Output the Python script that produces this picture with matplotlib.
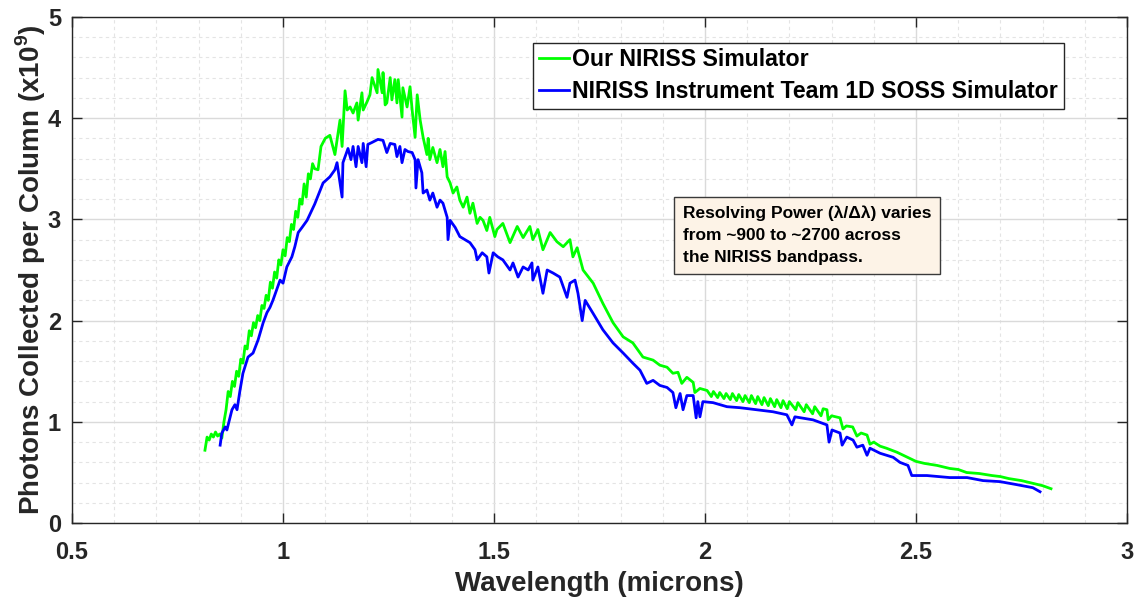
import matplotlib
matplotlib.use("Agg")
import matplotlib.pyplot as plt
from matplotlib.ticker import MultipleLocator

plt.rcParams['font.family'] = ['Liberation Sans', 'DejaVu Sans']
plt.rcParams['font.weight'] = 'bold'
plt.rcParams['mathtext.fontset'] = 'custom'
plt.rcParams['mathtext.bf'] = 'Liberation Sans:bold'
plt.rcParams['mathtext.rm'] = 'Liberation Sans:bold'

# wavelength (microns) / photons per column (x1e9)
green_wl = [0.815, 0.820, 0.825, 0.830, 0.835, 0.840, 0.845, 0.850, 0.855, 0.860,
            0.865, 0.870, 0.875, 0.880, 0.885, 0.890, 0.895, 0.900, 0.905, 0.910,
            0.915, 0.920, 0.925, 0.930, 0.935, 0.940, 0.945, 0.950, 0.955, 0.960,
            0.965, 0.970, 0.975, 0.980, 0.985, 0.990, 0.995, 1.000, 1.005, 1.010,
            1.015, 1.020, 1.025, 1.030, 1.035, 1.040, 1.045, 1.050, 1.055, 1.060,
            1.065, 1.070, 1.075, 1.083, 1.090, 1.100, 1.111, 1.123, 1.135, 1.140,
            1.147, 1.152, 1.159, 1.166, 1.175, 1.178, 1.187, 1.190, 1.199, 1.206,
            1.211, 1.223, 1.225, 1.235, 1.237, 1.242, 1.246, 1.254, 1.258, 1.265,
            1.270, 1.273, 1.282, 1.284, 1.294, 1.301, 1.306, 1.313, 1.318, 1.325,
            1.332, 1.341, 1.344, 1.348, 1.355, 1.365, 1.372, 1.379, 1.384, 1.389,
            1.396, 1.403, 1.412, 1.419, 1.427, 1.436, 1.443, 1.450, 1.460, 1.467,
            1.474, 1.483, 1.490, 1.502, 1.507, 1.521, 1.538, 1.555, 1.569, 1.585,
            1.592, 1.604, 1.616, 1.633, 1.649, 1.664, 1.680, 1.687, 1.697, 1.711,
            1.735, 1.758, 1.782, 1.806, 1.829, 1.853, 1.877, 1.893, 1.910, 1.924,
            1.936, 1.945, 1.957, 1.972, 1.976, 1.988, 2.005, 2.015, 2.020, 2.030,
            2.035, 2.045, 2.050, 2.060, 2.065, 2.075, 2.080, 2.090, 2.095, 2.105,
            2.110, 2.120, 2.125, 2.135, 2.140, 2.150, 2.155, 2.165, 2.170, 2.180,
            2.185, 2.195, 2.200, 2.215, 2.220, 2.235, 2.240, 2.255, 2.260, 2.275,
            2.280, 2.289, 2.292, 2.300, 2.310, 2.320, 2.327, 2.335, 2.350, 2.360,
            2.370, 2.384, 2.391, 2.400, 2.415, 2.430, 2.455, 2.480, 2.500, 2.520,
            2.550, 2.580, 2.600, 2.620, 2.650, 2.680, 2.700, 2.720, 2.750, 2.780,
            2.800, 2.820]
green_ph = [0.72, 0.85, 0.82, 0.88, 0.85, 0.90, 0.86, 0.88, 0.84, 1.00,
            1.12, 1.30, 1.25, 1.40, 1.35, 1.50, 1.45, 1.62, 1.58, 1.75,
            1.72, 1.90, 1.85, 1.98, 1.93, 2.05, 2.00, 2.15, 2.12, 2.25,
            2.20, 2.38, 2.32, 2.48, 2.42, 2.60, 2.55, 2.70, 2.64, 2.82,
            2.78, 2.95, 2.90, 3.08, 3.02, 3.20, 3.15, 3.35, 3.22, 3.45,
            3.40, 3.55, 3.50, 3.49, 3.72, 3.80, 3.83, 3.64, 3.98, 3.72,
            4.27, 4.08, 4.11, 4.05, 4.15, 3.98, 4.25, 4.08, 4.16, 4.23,
            4.40, 4.25, 4.48, 4.25, 4.45, 4.13, 4.15, 4.40, 4.18, 4.38,
            4.15, 4.38, 4.01, 4.30, 4.11, 4.31, 4.08, 3.81, 4.23, 3.98,
            3.81, 3.64, 3.80, 3.59, 3.71, 3.56, 3.69, 3.52, 3.67, 3.42,
            3.36, 3.26, 3.32, 3.19, 3.12, 3.22, 3.06, 3.16, 2.96, 3.02,
            2.99, 2.89, 3.02, 2.83, 2.90, 2.96, 2.77, 2.93, 2.82, 2.93,
            2.80, 2.90, 2.70, 2.87, 2.78, 2.73, 2.80, 2.63, 2.72, 2.50,
            2.37, 2.17, 1.98, 1.84, 1.78, 1.64, 1.61, 1.56, 1.54, 1.48,
            1.49, 1.38, 1.44, 1.39, 1.29, 1.33, 1.31, 1.25, 1.30, 1.24,
            1.29, 1.23, 1.28, 1.22, 1.28, 1.21, 1.27, 1.20, 1.26, 1.19,
            1.26, 1.18, 1.25, 1.17, 1.24, 1.16, 1.23, 1.15, 1.22, 1.14,
            1.21, 1.13, 1.20, 1.12, 1.19, 1.10, 1.17, 1.08, 1.15, 1.06,
            1.13, 1.12, 1.02, 1.06, 1.05, 1.04, 0.93, 0.96, 0.95, 0.86,
            0.89, 0.87, 0.78, 0.80, 0.76, 0.74, 0.70, 0.65, 0.61, 0.59,
            0.57, 0.54, 0.53, 0.50, 0.49, 0.47, 0.46, 0.44, 0.42, 0.39,
            0.37, 0.34]

blue_wl = [0.851, 0.855, 0.863, 0.867, 0.879, 0.886, 0.891, 0.898, 0.905, 0.917,
           0.929, 0.941, 0.953, 0.962, 0.969, 0.976, 0.993, 1.000, 1.009, 1.021,
           1.028, 1.036, 1.045, 1.057, 1.075, 1.095, 1.111, 1.123, 1.128, 1.140,
           1.142, 1.154, 1.161, 1.166, 1.173, 1.178, 1.187, 1.190, 1.197, 1.201,
           1.211, 1.225, 1.237, 1.246, 1.254, 1.265, 1.270, 1.277, 1.282, 1.289,
           1.296, 1.306, 1.313, 1.315, 1.320, 1.329, 1.332, 1.341, 1.348, 1.355,
           1.365, 1.372, 1.379, 1.389, 1.391, 1.396, 1.408, 1.419, 1.431, 1.443,
           1.455, 1.460, 1.472, 1.483, 1.488, 1.498, 1.509, 1.521, 1.538, 1.545,
           1.557, 1.569, 1.581, 1.590, 1.592, 1.604, 1.616, 1.626, 1.640, 1.656,
           1.673, 1.680, 1.692, 1.699, 1.709, 1.716, 1.735, 1.758, 1.782, 1.806,
           1.829, 1.846, 1.862, 1.877, 1.893, 1.910, 1.924, 1.931, 1.941, 1.948,
           1.957, 1.972, 1.979, 1.983, 1.988, 1.995, 2.019, 2.052, 2.083, 2.123,
           2.161, 2.194, 2.206, 2.213, 2.256, 2.289, 2.294, 2.301, 2.320, 2.325,
           2.336, 2.351, 2.360, 2.374, 2.384, 2.391, 2.415, 2.446, 2.462, 2.481,
           2.490, 2.526, 2.580, 2.621, 2.659, 2.699, 2.739, 2.777, 2.794]
blue_ph = [0.77, 0.89, 0.95, 0.92, 1.12, 1.17, 1.12, 1.31, 1.48, 1.64,
           1.68, 1.81, 1.98, 2.08, 2.13, 2.20, 2.40, 2.37, 2.53, 2.63,
           2.73, 2.87, 2.92, 2.99, 3.15, 3.36, 3.42, 3.49, 3.56, 3.22,
           3.56, 3.70, 3.59, 3.72, 3.52, 3.72, 3.56, 3.75, 3.52, 3.74,
           3.76, 3.79, 3.78, 3.66, 3.75, 3.74, 3.62, 3.72, 3.56, 3.69,
           3.67, 3.66, 3.59, 3.31, 3.59, 3.46, 3.26, 3.29, 3.19, 3.26,
           3.12, 3.19, 3.16, 3.02, 2.80, 2.99, 2.92, 2.83, 2.80, 2.77,
           2.70, 2.60, 2.67, 2.63, 2.47, 2.67, 2.63, 2.60, 2.50, 2.57,
           2.43, 2.53, 2.50, 2.57, 2.40, 2.53, 2.27, 2.50, 2.47, 2.43,
           2.23, 2.37, 2.40, 2.27, 2.00, 2.20, 2.07, 1.91, 1.78, 1.68,
           1.58, 1.51, 1.38, 1.41, 1.36, 1.34, 1.29, 1.14, 1.28, 1.12,
           1.26, 1.26, 1.04, 1.20, 1.05, 1.20, 1.19, 1.15, 1.14, 1.12,
           1.10, 1.07, 0.97, 1.05, 1.02, 0.97, 0.80, 0.92, 0.89, 0.77,
           0.85, 0.82, 0.75, 0.77, 0.67, 0.74, 0.69, 0.65, 0.60, 0.57,
           0.47, 0.47, 0.45, 0.45, 0.42, 0.41, 0.38, 0.35, 0.31]

labels = ["Our NIRISS Simulator", "NIRISS Instrument Team 1D SOSS Simulator"]
note = "Resolving Power (\u03bb/\u0394\u03bb) varies\nfrom ~900 to ~2700 across\nthe NIRISS bandpass."

fig = plt.figure(figsize=(11.38, 6.02), dpi=100)
ax = fig.add_axes([0.0633, 0.131, 0.927, 0.841])

ax.plot(green_wl, green_ph, color="#00ff00", linewidth=2.0, label=labels[0])
ax.plot(blue_wl, blue_ph, color="#0000ff", linewidth=2.0, label=labels[1])

ax.set_xlim(0.5, 3)
ax.set_ylim(0, 5)
ax.xaxis.set_minor_locator(MultipleLocator(0.1))
ax.yaxis.set_major_locator(MultipleLocator(1))
ax.yaxis.set_minor_locator(MultipleLocator(0.2))
ax.set_xticks([0.5, 1, 1.5, 2, 2.5, 3])
ax.set_xticklabels(["0.5", "1", "1.5", "2", "2.5", "3"])

ax.grid(which="major", color="#dadada", linewidth=1.0, linestyle="-")
ax.grid(which="minor", color="#e4e4e4", linewidth=0.8, linestyle=(0, (3, 3)))
ax.set_axisbelow(True)

ax.tick_params(which="major", direction="in", length=7, width=1, top=True, right=True,
               labelsize=17, colors="#262626")
ax.tick_params(axis="x", which="major", pad=13)
ax.tick_params(axis="y", which="major", pad=8)
ax.tick_params(which="minor", length=0)
for s in ax.spines.values():
    s.set_color("#262626")
    s.set_linewidth(1.0)

ax.set_xlabel("Wavelength (microns)", fontsize=20, fontweight="bold", color="#262626", labelpad=5)
ax.set_ylabel(r"Photons Collected per Column (x10$^{\mathbf{9}}$)", fontsize=20,
              fontweight="bold", color="#262626", labelpad=0)

leg = ax.legend(loc="upper left", bbox_to_anchor=(0.437, 0.949), fontsize=16.7,
                handlelength=1.3, handletextpad=0.15, labelspacing=0.38,
                borderpad=0.25, borderaxespad=0, fancybox=False, framealpha=1)
leg.get_frame().set_edgecolor("#262626")
leg.get_frame().set_linewidth(1.0)
for t in leg.get_texts():
    t.set_fontweight("bold")

ax.text(0.579, 0.628, note, transform=ax.transAxes, ha="left", va="top", fontsize=12.5,
        fontweight="bold", linespacing=1.6, color="black",
        bbox=dict(boxstyle="square,pad=0.5", facecolor="#fdf3e7", edgecolor="#3a3a3a",
                  linewidth=1.0))

fig.savefig("out.png", dpi=100)
